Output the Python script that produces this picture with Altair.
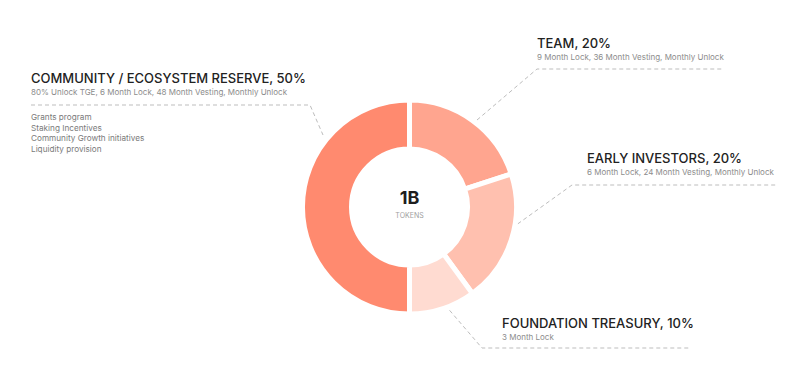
import altair as alt
import pandas as pd

# ---- data ----
categories = ["TEAM", "EARLY INVESTORS", "FOUNDATION TREASURY", "COMMUNITY / ECOSYSTEM RESERVE"]
shares = [20, 20, 10, 50]
colors = ["#FFA58F", "#FFC0AF", "#FFDBD1", "#FF8A6F"]
subtitles = [
    "9 Month Lock, 36 Month Vesting, Monthly Unlock",
    "6 Month Lock, 24 Month Vesting, Monthly Unlock",
    "3 Month Lock",
    "80% Unlock TGE, 6 Month Lock, 48 Month Vesting, Monthly Unlock",
]
community_uses = ["Grants program", "Staking Incentives", "Community Growth initiatives", "Liquidity provision"]
total_label = "1B"
unit_label = "TOKENS"

# ---- layout (chart pixel coordinates) ----
W, H = 784, 372
CX, CY = 401.5, 199
title_pos = [(529, 36), (579, 151), (494, 316), (23, 71)]
sub_dy = 13.5
uses_y0, uses_dy = 110, 10.7
leaders = [
    [(469, 112), (529, 61), (714, 61)],
    [(504, 220), (564, 177), (768, 177)],
    [(437, 297), (474, 340), (682, 340)],
    [(23, 97), (302, 97), (315, 127)],
]

pie_df = pd.DataFrame({"cat": categories, "share": shares, "idx": list(range(len(categories)))})

donut = alt.Chart(pie_df).mark_arc(
    radius=107, innerRadius=58, stroke="white", strokeWidth=5
).encode(
    theta=alt.Theta("share:Q", stack=True),
    color=alt.Color("cat:N", scale=alt.Scale(domain=categories, range=colors), legend=None),
    order=alt.Order("idx:Q"),
    x=alt.value(CX), y=alt.value(CY),
)

titles_df = pd.DataFrame({
    "t": [f"{c}, {s}%" for c, s in zip(categories, shares)],
    "x": [p[0] for p in title_pos],
    "y": [p[1] for p in title_pos],
})
subs_df = pd.DataFrame({
    "t": subtitles,
    "x": [p[0] for p in title_pos],
    "y": [p[1] + sub_dy for p in title_pos],
})
uses_df = pd.DataFrame({
    "t": community_uses,
    "x": [title_pos[3][0]] * len(community_uses),
    "y": [uses_y0 + i * uses_dy for i in range(len(community_uses))],
})

FONT = "Inter"
titles = alt.Chart(titles_df).mark_text(
    align="left", baseline="middle", font=FONT, fontSize=13, color="#222222", fontWeight=500
).encode(x=alt.X("x:Q", scale=None), y=alt.Y("y:Q", scale=None), text="t:N")
subs = alt.Chart(subs_df).mark_text(
    align="left", baseline="middle", font=FONT, fontSize=8, color="#8c8c8c"
).encode(x=alt.X("x:Q", scale=None), y=alt.Y("y:Q", scale=None), text="t:N")
uses = alt.Chart(uses_df).mark_text(
    align="left", baseline="middle", font=FONT, fontSize=8.2, color="#7a7a7a"
).encode(x=alt.X("x:Q", scale=None), y=alt.Y("y:Q", scale=None), text="t:N")

lines_rows = []
for gi, pts in enumerate(leaders):
    for pi, (px, py) in enumerate(pts):
        lines_rows.append({"g": gi, "o": pi, "x": px, "y": py})
lines_df = pd.DataFrame(lines_rows)
lines = alt.Chart(lines_df).mark_line(
    color="#bdbdbd", strokeWidth=1, strokeDash=[4, 3]
).encode(
    x=alt.X("x:Q", scale=None), y=alt.Y("y:Q", scale=None),
    detail="g:N", order="o:Q",
)

center_df = pd.DataFrame({"t": [total_label, unit_label], "y": [CY - 8.5, CY + 8.5]})
center_big = alt.Chart(center_df.iloc[[0]]).mark_text(
    align="center", baseline="middle", font=FONT, fontSize=18, fontWeight="bold", color="#1e1e1e"
).encode(x=alt.value(CX), y=alt.Y("y:Q", scale=None), text="t:N")
center_small = alt.Chart(center_df.iloc[[1]]).mark_text(
    align="center", baseline="middle", font=FONT, fontSize=7, color="#a0a0a0"
).encode(x=alt.value(CX), y=alt.Y("y:Q", scale=None), text="t:N")

chart = alt.layer(lines, donut, titles, subs, uses, center_big, center_small).properties(
    width=W, height=H, padding=0, autosize="none", background="white"
).configure_view(strokeWidth=0)

chart.save("out.html", embed_options={"renderer": "svg", "actions": False})
